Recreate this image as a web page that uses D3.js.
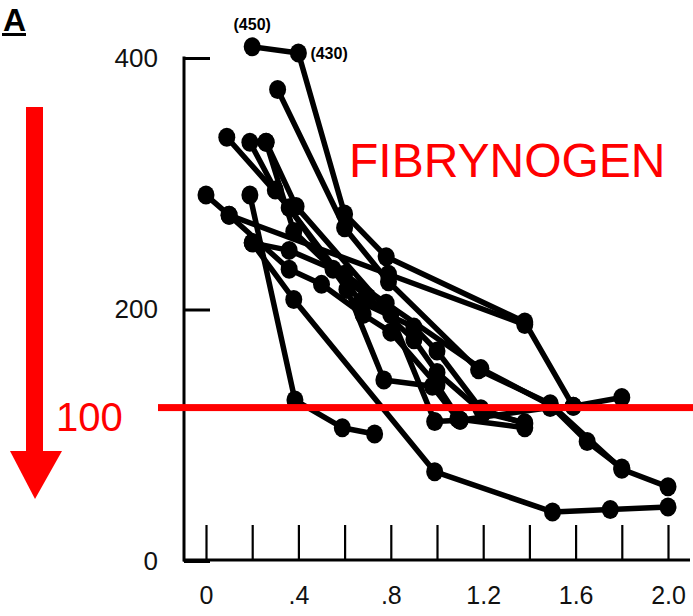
<!DOCTYPE html>
<html>
<head>
<meta charset="utf-8">
<script src="https://cdn.jsdelivr.net/npm/d3@7"></script>
<style>
  html, body { margin: 0; padding: 0; background: #fff; }
  svg { display: block; }
  text { font-family: "Liberation Sans", Arial, Helvetica, sans-serif; }
</style>
</head>
<body>
<svg id="chart" width="693" height="616"></svg>
<script>
// ---- data (time in hours, fibrinogen mg/dl) ----
const patient1 = [[0.2,409],[0.4,404],[0.6,276],[0.78,242],[1.38,190],[1.59,123],[1.8,130]];
const patient2 = [[0.31,375],[0.6,265],[0.79,222],[1.18,152],[1.49,125],[1.8,73],[2.0,59]];
const patient3 = [[0.19,291],[0.385,128],[0.59,106],[0.73,101]];
const patient4 = [[0,291],[0.1,275],[0.79,228],[1.38,188]];
const patient5 = [[0.09,337],[0.36,281],[0.61,216],[0.77,144],[0.98,139],[1.09,113],[1.38,106]];
const patient6 = [[0.19,333],[0.3,295],[0.67,206],[0.9,186],[1.0,167],[1.19,121],[1.38,109]];
const patient7 = [[0.26,333],[0.39,282],[0.8,196],[0.99,111],[1.1,112],[1.49,122],[1.59,123]];
const patient8 = [[0.2,253],[0.38,208],[0.99,71],[1.5,39],[1.75,41],[2.0,43]];
const patient9 = [[0.2,253],[0.36,247],[0.6,228],[0.78,205],[1.19,153],[1.49,124],[1.65,95],[1.8,74]];
const patient10 = [[0.26,333],[0.38,262],[0.55,232],[0.7,210],[0.9,176],[1.0,150],[1.2,118],[1.38,110]];
const patient11 = [[0.1,275],[0.36,232],[0.5,220],[0.68,196],[0.8,182],[1.0,140],[1.1,112]];
const patients = [patient1, patient2, patient3, patient4, patient5, patient6, patient7,
                  patient8, patient9, patient10, patient11];

const offScale = [{t:0.2, v:409, label:"(450)"}, {t:0.4, v:404, label:"(430)"}];
const xTicks = [0,0.2,0.4,0.6,0.8,1.0,1.2,1.4,1.6,1.8,2.0];
const xLabels = {0:"0", 0.4:".4", 0.8:".8", 1.2:"1.2", 1.6:"1.6", 2:"2.0"};
const yTicks = [0,200,400];
const thresholdValue = 122;   // drawn red line (labelled "100")
const thresholdLabel = "100";
const title = "FIBRYNOGEN";
const panel = "A";

// ---- scales ----
const x = d3.scaleLinear().domain([0,2]).range([206,668]);
const y = d3.scaleLinear().domain([0,400]).range([561,58]);

const svg = d3.select("#chart");

// axes
const xAxis = d3.axisBottom(x).tickValues(xTicks)
  .tickSizeInner(-35).tickSizeOuter(0).tickPadding(26)
  .tickFormat(d => { const k = Math.round(d*10)/10; return xLabels[k] !== undefined ? xLabels[k] : ""; });
const gx = svg.append("g").attr("transform","translate(0,560)").call(xAxis);
gx.select(".domain").remove();
gx.selectAll(".tick line").attr("stroke","#000").attr("stroke-width",2.2);
gx.selectAll(".tick text").attr("font-size",25).attr("fill","#111");
svg.append("line").attr("x1",183).attr("x2",690).attr("y1",560).attr("y2",560)
  .attr("stroke","#000").attr("stroke-width",3);

const yAxis = d3.axisLeft(y).tickValues(yTicks)
  .tickSizeInner(-26).tickSizeOuter(0).tickPadding(26);
const gy = svg.append("g").attr("transform","translate(184,0)").call(yAxis);
gy.select(".domain").remove();
gy.selectAll(".tick line").attr("stroke","#000").attr("stroke-width",3);
gy.selectAll(".tick text").attr("font-size",26).attr("fill","#111");
svg.append("line").attr("x1",184).attr("x2",184).attr("y1",y(400)-1.5).attr("y2",561.5)
  .attr("stroke","#000").attr("stroke-width",3);

// lines and dots
const line = d3.line().x(d => x(d[0])).y(d => y(d[1]));
svg.append("g").selectAll("path").data(patients).join("path")
  .attr("d", line).attr("fill","none").attr("stroke","#000")
  .attr("stroke-width",5.5).attr("stroke-linejoin","round");
svg.append("g").selectAll("g").data(patients).join("g")
  .selectAll("ellipse").data(d => d).join("ellipse")
  .attr("cx", d => x(d[0])).attr("cy", d => y(d[1]))
  .attr("rx",8.5).attr("ry",9.5).attr("fill","#000");

// off-scale labels
svg.append("text").attr("x", x(offScale[0].t)).attr("y", 30).attr("text-anchor","middle")
  .attr("font-size",16).attr("font-weight","bold").attr("fill","#000").text(offScale[0].label);
svg.append("text").attr("x", x(offScale[1].t)+12).attr("y", 59).attr("text-anchor","start")
  .attr("font-size",16).attr("font-weight","bold").attr("fill","#000").text(offScale[1].label);

// annotations (red)
svg.append("rect").attr("x",158).attr("y",y(thresholdValue)-3.5).attr("width",535).attr("height",7).attr("fill","#ff0000");
svg.append("text").attr("x",56).attr("y",431).attr("font-size",40).attr("fill","#ff0000").text(thresholdLabel);
svg.append("rect").attr("x",26).attr("y",107).attr("width",17).attr("height",346).attr("fill","#ff0000");
svg.append("path").attr("d","M10,451 L62,451 L35,499 Z").attr("fill","#ff0000");
svg.append("text").attr("x",349).attr("y",177).attr("font-size",48).attr("fill","#ff0000").text(title);

// panel letter
svg.append("text").attr("x",3).attr("y",31).attr("font-size",32).attr("font-weight","bold").attr("fill","#000").text(panel);
svg.append("rect").attr("x",2).attr("y",33).attr("width",24).attr("height",3).attr("fill","#000");
</script>
</body>
</html>
